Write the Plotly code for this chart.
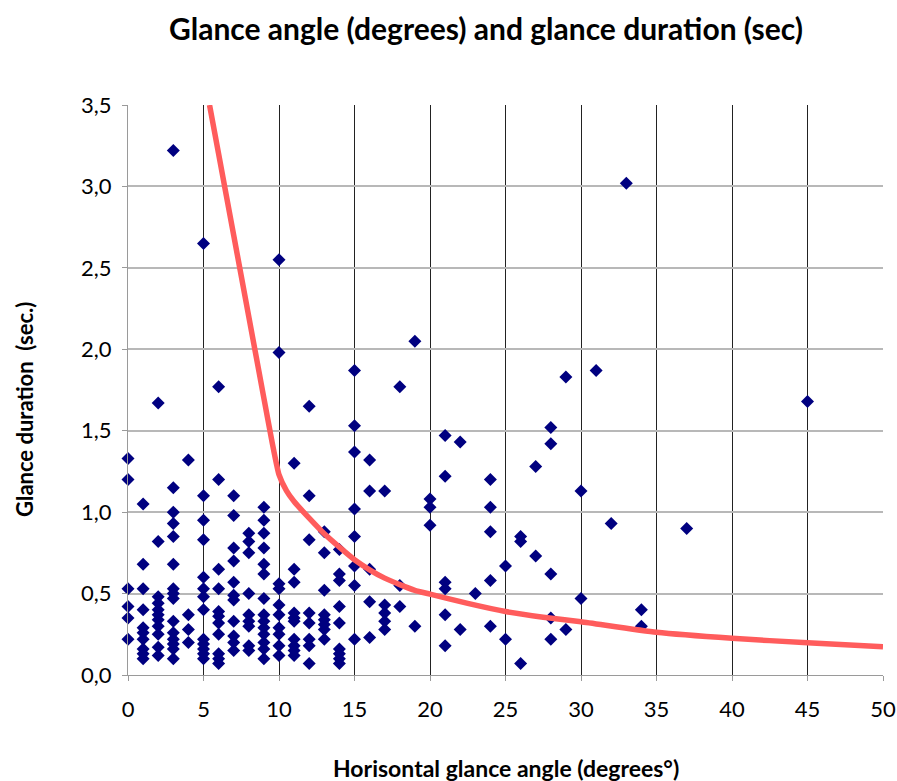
import plotly.graph_objects as go

# Scatter data: horizontal glance angle (deg) and glance duration (sec)
angle_deg = (
    [0]*6 + [1]*10 + [2]*11 + [3]*15 + [4]*4 + [5]*13 + [6]*11 + [7]*11 + [8]*9 +
    [9]*14 + [10]*10 + [11]*10 + [12]*8 + [13]*8 + [14]*9 + [15]*8 + [16]*5 +
    [17]*5 + [18]*3 + [19]*2 + [20]*3 + [21]*6 + [22]*2 + [23]*1 + [24]*5 +
    [25]*2 + [26]*3 + [27]*2 + [28]*5 + [29]*2 + [30]*2 + [31]*1 + [32]*1 +
    [33]*1 + [34]*2 + [37]*1 + [45]*1
)
duration_sec = [
    1.33, 1.20, 0.53, 0.42, 0.35, 0.22,
    1.05, 0.68, 0.53, 0.40, 0.29, 0.26, 0.22, 0.16, 0.13, 0.10,
    1.67, 0.82, 0.48, 0.44, 0.40, 0.37, 0.34, 0.30, 0.25, 0.17, 0.12,
    3.22, 1.15, 1.00, 0.93, 0.85, 0.68, 0.53, 0.50, 0.47, 0.33, 0.26, 0.22, 0.19, 0.16, 0.10,
    1.32, 0.37, 0.28, 0.20,
    2.65, 1.10, 0.95, 0.83, 0.60, 0.53, 0.48, 0.40, 0.22, 0.19, 0.16, 0.13, 0.10,
    1.77, 1.20, 0.65, 0.53, 0.39, 0.36, 0.32, 0.25, 0.13, 0.10, 0.07,
    1.10, 0.98, 0.78, 0.70, 0.57, 0.49, 0.46, 0.33, 0.24, 0.20, 0.15,
    0.87, 0.82, 0.75, 0.50, 0.37, 0.33, 0.30, 0.18, 0.15,
    1.03, 0.95, 0.87, 0.78, 0.68, 0.62, 0.47, 0.37, 0.33, 0.29, 0.25, 0.20, 0.16, 0.10,
    2.55, 1.98, 0.56, 0.53, 0.43, 0.37, 0.29, 0.25, 0.18, 0.12,
    1.30, 0.65, 0.57, 0.38, 0.35, 0.33, 0.22, 0.18, 0.15, 0.12,
    1.65, 1.10, 0.83, 0.38, 0.32, 0.22, 0.18, 0.07,
    0.88, 0.75, 0.52, 0.37, 0.34, 0.31, 0.28, 0.22,
    0.77, 0.62, 0.58, 0.42, 0.32, 0.16, 0.13, 0.10, 0.07,
    1.87, 1.53, 1.37, 1.02, 0.85, 0.67, 0.55, 0.22,
    1.32, 1.13, 0.65, 0.45, 0.23,
    1.13, 0.43, 0.38, 0.33, 0.28,
    1.77, 0.55, 0.42,
    2.05, 0.30,
    1.08, 1.03, 0.92,
    1.47, 1.22, 0.57, 0.53, 0.37, 0.18,
    1.43, 0.28,
    0.50,
    1.20, 1.03, 0.88, 0.58, 0.30,
    0.67, 0.22,
    0.85, 0.82, 0.07,
    1.28, 0.73,
    1.52, 1.42, 0.62, 0.35, 0.22,
    1.83, 0.28,
    1.13, 0.47,
    1.87,
    0.93,
    3.02,
    0.40, 0.30,
    0.90,
    1.68,
]

# Threshold curve
curve_x = [5.4, 6, 7, 8, 9, 9.5, 10, 10.5, 11, 12, 13, 14, 15, 16, 17, 18, 19, 20, 22.5, 25, 27.5, 30, 35, 40, 45, 50]
curve_y = [3.5, 3.2, 2.7, 2.2, 1.7, 1.45, 1.23, 1.13, 1.065, 0.963, 0.867, 0.785, 0.708, 0.646, 0.595, 0.555, 0.52, 0.497, 0.44, 0.39, 0.355, 0.327, 0.262, 0.225, 0.198, 0.174]

x_ticks = [0, 5, 10, 15, 20, 25, 30, 35, 40, 45, 50]
y_ticks = [0, 0.5, 1.0, 1.5, 2.0, 2.5, 3.0, 3.5]
y_tick_labels = ["0,0", "0,5", "1,0", "1,5", "2,0", "2,5", "3,0", "3,5"]

FONT = "Lato, 'Open Sans', sans-serif"

fig = go.Figure()
fig.add_trace(go.Scatter(
    x=angle_deg, y=duration_sec, mode="markers",
    marker=dict(symbol="diamond", size=10, color="#000080", line=dict(width=0)),
    showlegend=False, cliponaxis=False,
))
fig.add_trace(go.Scatter(
    x=curve_x, y=curve_y, mode="lines",
    line=dict(color="#FF5C5C", width=5.5, shape="spline", smoothing=0.5),
    showlegend=False,
))

fig.update_layout(
    width=897, height=781,
    paper_bgcolor="white", plot_bgcolor="white",
    margin=dict(l=128, r=14, t=105, b=106, autoexpand=False),
    font=dict(family=FONT, color="black"),
    title=dict(
        text="<b>Glance angle (degrees) and glance duration (sec)</b>",
        x=486 / 897, xanchor="center", y=1 - 29 / 781, yanchor="middle",
        font=dict(size=30, family=FONT, color="black"),
    ),
    xaxis=dict(
        range=[0, 50], tickmode="array", tickvals=x_ticks, automargin=False,
        showgrid=True, gridcolor="#222222", gridwidth=1,
        showline=True, linecolor="#9a9a9a", linewidth=1,
        ticks="outside", ticklen=5, tickcolor="#9a9a9a", ticklabelstandoff=10,
        tickfont=dict(size=22, family=FONT), zeroline=False,
    ),
    yaxis=dict(
        range=[0, 3.5], tickmode="array", tickvals=y_ticks, ticktext=y_tick_labels,
        automargin=False,
        showgrid=True, gridcolor="#b8b8b8", gridwidth=1.5,
        showline=True, linecolor="#9a9a9a", linewidth=1,
        ticks="outside", ticklen=5, tickcolor="#9a9a9a", ticklabelstandoff=6,
        tickfont=dict(size=22, family=FONT), zeroline=False,
    ),
    annotations=[
        dict(text="<b>Horisontal glance angle (degrees°)</b>",
             xref="paper", yref="paper", x=0.5, y=-(768 - 675) / 570,
             xanchor="center", yanchor="middle", showarrow=False,
             font=dict(size=23, family=FONT)),
        dict(text="<b>Glance duration&nbsp; (sec.)</b>",
             xref="paper", yref="paper", x=-(128 - 24) / 755, y=(675 - 410) / 570,
             xanchor="center", yanchor="middle", textangle=-90, showarrow=False,
             font=dict(size=22, family=FONT)),
    ],
)

fig.write_html("out.html")
